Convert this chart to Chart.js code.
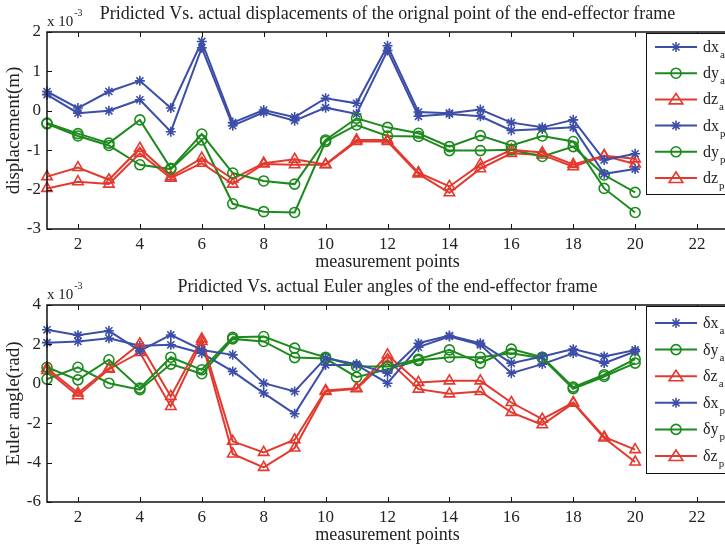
<!DOCTYPE html>
<html>
<head>
<meta charset="utf-8">
<script src="https://cdn.jsdelivr.net/npm/chart.js@4/dist/chart.umd.min.js"></script>
<style>
  html, body { margin: 0; padding: 0; background: #fff; overflow: hidden; }
  .box { position: absolute; left: 0; width: 740px; height: 273px; }
</style>
</head>
<body>
<div class="box" style="top:0"><canvas id="dispChart"></canvas></div>
<div class="box" style="top:273px"><canvas id="angleChart"></canvas></div>
<script>
const points = [1, 2, 3, 4, 5, 6, 7, 8, 9, 10, 11, 12, 13, 14, 15, 16, 17, 18, 19, 20];
const xTicks = [2, 4, 6, 8, 10, 12, 14, 16, 18, 20, 22];

// displacements, x 10^-3 m
const dxA = [0.49, 0.07, 0.49, 0.76, 0.07, 1.76, -0.30, 0.02, -0.16, 0.32, 0.19, 1.65, -0.03, -0.06, 0.03, -0.30, -0.42, -0.23, -1.25, -1.09];
const dyA = [-0.31, -0.58, -0.82, -0.23, -1.46, -0.59, -1.58, -1.78, -1.86, -0.74, -0.19, -0.42, -0.57, -0.91, -0.63, -0.88, -0.64, -0.78, -1.97, -2.58];
const dzA = [-1.67, -1.44, -1.75, -0.95, -1.67, -1.20, -1.73, -1.33, -1.23, -1.36, -0.74, -0.74, -1.57, -1.92, -1.36, -0.99, -1.06, -1.36, -1.14, -1.22];
const dxP = [0.41, -0.06, 0.00, 0.28, -0.53, 1.60, -0.38, -0.04, -0.25, 0.08, -0.08, 1.53, -0.14, -0.08, -0.14, -0.50, -0.46, -0.42, -1.60, -1.48];
const dyP = [-0.33, -0.64, -0.88, -1.37, -1.48, -0.74, -2.36, -2.56, -2.58, -0.78, -0.36, -0.64, -0.65, -1.01, -1.01, -0.99, -1.16, -0.91, -1.63, -2.07];
const dzP = [-1.97, -1.80, -1.86, -1.08, -1.71, -1.33, -1.86, -1.35, -1.37, -1.37, -0.78, -0.78, -1.60, -2.08, -1.47, -1.08, -1.12, -1.42, -1.14, -1.35];
const dispTicks = [2, 1, 0, -1, -2, -3];

// Euler angles, x 10^-3 rad
const exA = [2.74, 2.47, 2.69, 1.67, 2.48, 1.72, 1.47, 0.03, -0.39, 1.30, 1.00, 0.54, 2.06, 2.45, 2.06, 1.05, 1.39, 1.76, 1.39, 1.72];
const eyA = [0.84, 0.20, 1.22, -0.22, 1.35, 0.71, 2.36, 2.40, 1.81, 1.35, 0.88, 0.88, 1.25, 1.72, 1.05, 1.76, 1.35, -0.17, 0.46, 1.25];
const ezA = [0.79, -0.47, 0.79, 2.03, -0.64, 2.28, -2.92, -3.48, -2.84, -0.34, -0.22, 1.47, 0.07, 0.15, 0.15, -0.95, -1.79, -0.95, -2.70, -3.34];
const exP = [2.09, 2.15, 2.31, 1.93, 1.98, 1.55, 0.63, -0.47, -1.52, 0.96, 0.96, 0.03, 1.86, 2.40, 1.98, 0.54, 1.00, 1.55, 1.05, 1.64];
const eyP = [0.24, 0.84, 0.03, -0.30, 1.00, 0.51, 2.28, 2.15, 1.33, 1.28, 0.34, 0.74, 1.18, 1.35, 1.35, 1.55, 1.30, -0.25, 0.37, 1.05];
const ezP = [0.68, -0.61, 0.74, 1.59, -1.15, 2.15, -3.56, -4.24, -3.26, -0.39, -0.25, 1.22, -0.27, -0.51, -0.39, -1.45, -2.08, -0.98, -2.75, -3.97];
const angleTicks = [4, 2, 0, -2, -4, -6];

const BLUE = '#3c4ea8';
const GREEN = '#1c8a1c';
const RED = '#e4392e';
const FONT = "'Liberation Serif', 'DejaVu Serif', serif";
const INK = '#222';

function series(label, vals, color, style, radius) {
  return {
    label: label,
    data: points.map((p, i) => ({ x: p, y: vals[i] })),
    borderColor: color,
    backgroundColor: 'rgba(255,255,255,0)',
    pointBorderColor: color,
    pointBackgroundColor: 'rgba(255,255,255,0)',
    pointStyle: style,
    pointRadius: radius,
    pointBorderWidth: 1.6,
    borderWidth: 2,
    tension: 0,
    clip: false
  };
}

function marker(ctx, style, x, y, r) {
  ctx.beginPath();
  if (style === 'circle') {
    ctx.arc(x, y, r, 0, Math.PI * 2);
  } else if (style === 'triangle') {
    const h = r * 1.5;
    ctx.moveTo(x, y - h * 0.66);
    ctx.lineTo(x + r * 1.15, y + h * 0.5);
    ctx.lineTo(x - r * 1.15, y + h * 0.5);
    ctx.closePath();
  } else {
    for (let k = 0; k < 4; k++) {
      const a = k * Math.PI / 4;
      ctx.moveTo(x - Math.cos(a) * r, y - Math.sin(a) * r);
      ctx.lineTo(x + Math.cos(a) * r, y + Math.sin(a) * r);
    }
  }
  ctx.stroke();
}

const matlabFrame = {
  id: 'matlabFrame',
  afterDatasetsDraw(chart, args, opts) {
    const { ctx, chartArea: a, scales } = chart;
    ctx.save();
    ctx.strokeStyle = '#111';
    ctx.lineWidth = 1.5;
    ctx.strokeRect(a.left, a.top, a.right - a.left, a.bottom - a.top);
    ctx.lineWidth = 1;
    ctx.beginPath();
    scales.x.ticks.forEach(t => {
      const px = Math.round(scales.x.getPixelForValue(t.value)) + 0.5;
      ctx.moveTo(px, a.top); ctx.lineTo(px, a.top + 5);
      ctx.moveTo(px, a.bottom); ctx.lineTo(px, a.bottom - 5);
    });
    scales.y.ticks.forEach(t => {
      const py = Math.round(scales.y.getPixelForValue(t.value)) + 0.5;
      ctx.moveTo(a.left, py); ctx.lineTo(a.left + 5, py);
    });
    ctx.stroke();

    // exponent label
    ctx.fillStyle = INK;
    ctx.textBaseline = 'alphabetic';
    ctx.textAlign = 'left';
    ctx.font = '15px ' + FONT;
    ctx.fillText('x 10', a.left, 26);
    const w = ctx.measureText('x 10').width;
    ctx.font = '10px ' + FONT;
    ctx.fillText('-3', a.left + w + 1, 16);

    // legend inside the axes
    const L = opts.legend;
    ctx.fillStyle = '#fff';
    ctx.fillRect(L.x, L.y, 120, L.h);
    ctx.strokeStyle = '#111';
    ctx.lineWidth = 1;
    ctx.strokeRect(L.x + 0.5, L.y + 0.5, 120, L.h);
    chart.data.datasets.forEach((ds, i) => {
      const ry = L.y + L.first + i * L.step;
      ctx.strokeStyle = ds.borderColor;
      ctx.lineWidth = 2;
      ctx.beginPath();
      ctx.moveTo(L.x + 9, ry); ctx.lineTo(L.x + 51, ry);
      ctx.stroke();
      ctx.lineWidth = 1.6;
      marker(ctx, ds.pointStyle, L.x + 30, ry, ds.pointRadius);
      const parts = ds.label.split('_');
      ctx.fillStyle = INK;
      ctx.font = '16px ' + FONT;
      ctx.fillText(parts[0], L.x + 57, ry + 5);
      const tw = ctx.measureText(parts[0]).width;
      ctx.font = '11px ' + FONT;
      ctx.fillText(parts[1], L.x + 57 + tw + 1, ry + 11);
    });
    ctx.restore();
  }
};

function makeChart(id, title, yTitle, datasets, yTicks, legend) {
  return new Chart(document.getElementById(id), {
    type: 'line',
    data: { datasets: datasets },
    options: {
      responsive: true,
      maintainAspectRatio: false,
      animation: false,
      layout: { padding: { left: 0, right: 12, top: 0, bottom: 0 } },
      plugins: {
        legend: { display: false },
        tooltip: { enabled: false },
        title: {
          display: true,
          fullSize: false,
          text: title,
          color: INK,
          font: { family: FONT, size: 18, weight: 'normal' },
          padding: { top: 3, bottom: 7.4 }
        },
        matlabFrame: { legend: legend }
      },
      scales: {
        x: {
          type: 'linear',
          min: 1,
          max: 23,
          grid: { display: false, drawTicks: false },
          border: { display: false },
          afterBuildTicks: s => { s.ticks = xTicks.map(v => ({ value: v })); },
          afterFit: s => { s.height = 44; },
          ticks: { color: INK, padding: 5, font: { family: FONT, size: 17 } },
          title: {
            display: true,
            text: 'measurement points',
            color: INK,
            padding: 0,
            font: { family: FONT, size: 18 }
          }
        },
        y: {
          min: yTicks[yTicks.length - 1],
          max: yTicks[0],
          grid: { display: false, drawTicks: false },
          border: { display: false },
          afterBuildTicks: s => { s.ticks = yTicks.map(v => ({ value: v })); },
          afterFit: s => { s.width = 47; },
          ticks: { color: INK, padding: 6, font: { family: FONT, size: 17 } },
          title: {
            display: true,
            text: yTitle,
            color: INK,
            padding: 3,
            font: { family: FONT, size: 19 }
          }
        }
      }
    },
    plugins: [matlabFrame]
  });
}

makeChart('dispChart',
  'Pridicted Vs. actual displacements of the orignal point of the end-effector frame',
  'displacement(m)',
  [
    series('dx_a', dxA, BLUE, 'star', 5),
    series('dy_a', dyA, GREEN, 'circle', 5),
    series('dz_a', dzA, RED, 'triangle', 6),
    series('dx_p', dxP, BLUE, 'star', 5),
    series('dy_p', dyP, GREEN, 'circle', 5),
    series('dz_p', dzP, RED, 'triangle', 6)
  ],
  dispTicks,
  { x: 646, y: 33, h: 161, first: 14, step: 26.2 });

makeChart('angleChart',
  'Pridicted Vs. actual Euler angles of the end-effector frame',
  'Euler angle(rad)',
  [
    series('δx_a', exA, BLUE, 'star', 5),
    series('δy_a', eyA, GREEN, 'circle', 5),
    series('δz_a', ezA, RED, 'triangle', 6),
    series('δx_p', exP, BLUE, 'star', 5),
    series('δy_p', eyP, GREEN, 'circle', 5),
    series('δz_p', ezP, RED, 'triangle', 6)
  ],
  angleTicks,
  { x: 646, y: 33, h: 167, first: 17, step: 26.6 });
</script>
</body>
</html>
